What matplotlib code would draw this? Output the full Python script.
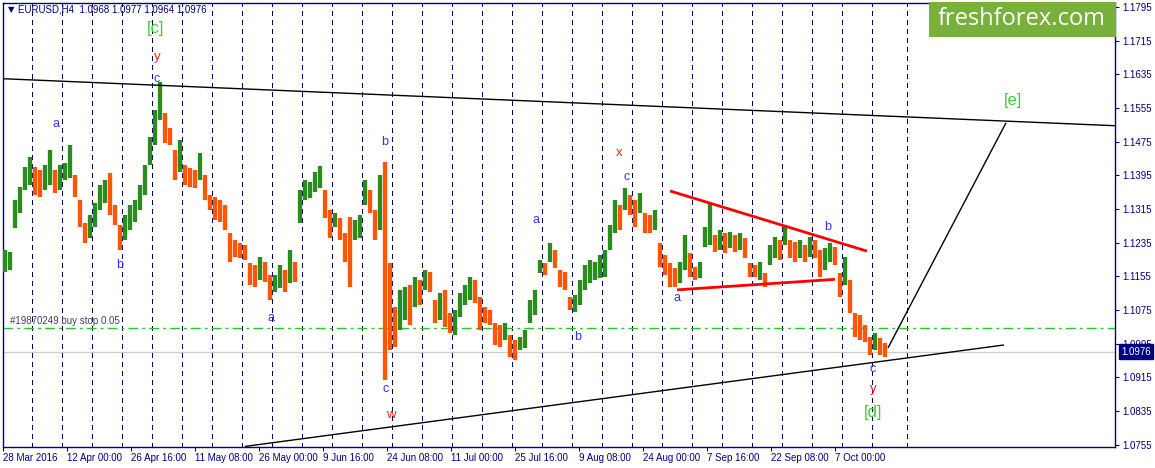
import numpy as np
import matplotlib
matplotlib.use('Agg')
import matplotlib.pyplot as plt
import matplotlib.transforms as mtransforms
from matplotlib.patches import Rectangle

plt.rcParams['font.family'] = ['Liberation Sans', 'DejaVu Sans']

# EURUSD H4, one sample every 5 bars (high / low)
high = [1.1218, 1.1213, 1.1336, 1.1367, 1.1415, 1.1438, 1.1415, 1.1408, 1.1420, 1.1455,
        1.1408, 1.1420, 1.1424, 1.1467, 1.1396, 1.1336, 1.1282, 1.1301, 1.1329, 1.1372,
        1.1384, 1.1400, 1.1325, 1.1277, 1.1301, 1.1325, 1.1336, 1.1372, 1.1420, 1.1486,
        1.1550, 1.1616, 1.1543, 1.1507, 1.1455, 1.1479, 1.1420, 1.1412, 1.1408, 1.1448,
        1.1396, 1.1348, 1.1344, 1.1336, 1.1325, 1.1258, 1.1241, 1.1234, 1.1230, 1.1187,
        1.1182, 1.1201, 1.1189, 1.1158, 1.1158, 1.1182, 1.1170, 1.1218, 1.1189, 1.1360,
        1.1384, 1.1379, 1.1403, 1.1417, 1.1360, 1.1313, 1.1306, 1.1294, 1.1258, 1.1296,
        1.1289, 1.1301, 1.1384, 1.1360, 1.1313, 1.1396, 1.1427, 1.1187, 1.1083, 1.1123,
        1.1130, 1.1135, 1.1154, 1.1147, 1.1170, 1.1165, 1.1099, 1.1116, 1.1123, 1.1068,
        1.1075, 1.1116, 1.1135, 1.1154, 1.1147, 1.1106, 1.1083, 1.1075, 1.1045, 1.1040,
        1.1045, 1.1016, 1.1004, 1.1011, 1.1028, 1.1099, 1.1123, 1.1194, 1.1187, 1.1234,
        1.1218, 1.1170, 1.1165, 1.1106, 1.1111, 1.1147, 1.1182, 1.1194, 1.1189, 1.1206,
        1.1218, 1.1277, 1.1336, 1.1325, 1.1365, 1.1348, 1.1336, 1.1353, 1.1306, 1.1301,
        1.1313, 1.1234, 1.1206, 1.1187, 1.1175, 1.1189, 1.1253, 1.1211, 1.1177, 1.1189,
        1.1272, 1.1329, 1.1253, 1.1265, 1.1258, 1.1260, 1.1253, 1.1258, 1.1246, 1.1187,
        1.1182, 1.1189, 1.1163, 1.1230, 1.1249, 1.1241, 1.1277, 1.1241, 1.1237, 1.1241,
        1.1230, 1.1249, 1.1241, 1.1218, 1.1223, 1.1234, 1.1225, 1.1163, 1.1201, 1.1147,
        1.1068, 1.1064, 1.1040, 1.1011, 1.1021, 1.1009, 1.0997]
low = [1.1165, 1.1170, 1.1270, 1.1306, 1.1360, 1.1372, 1.1348, 1.1344, 1.1360, 1.1372,
       1.1353, 1.1360, 1.1384, 1.1389, 1.1344, 1.1272, 1.1234, 1.1246, 1.1272, 1.1313,
       1.1329, 1.1301, 1.1277, 1.1218, 1.1241, 1.1265, 1.1284, 1.1313, 1.1348, 1.1420,
       1.1467, 1.1526, 1.1472, 1.1467, 1.1384, 1.1403, 1.1372, 1.1367, 1.1365, 1.1384,
       1.1336, 1.1313, 1.1289, 1.1284, 1.1265, 1.1189, 1.1201, 1.1199, 1.1194, 1.1135,
       1.1130, 1.1147, 1.1142, 1.1099, 1.1118, 1.1128, 1.1118, 1.1139, 1.1142, 1.1282,
       1.1336, 1.1341, 1.1355, 1.1365, 1.1294, 1.1246, 1.1272, 1.1241, 1.1189, 1.1130,
       1.1241, 1.1246, 1.1325, 1.1306, 1.1241, 1.1265, 1.0909, 1.0980, 1.0988, 1.1028,
       1.1052, 1.1040, 1.1083, 1.1087, 1.1123, 1.1118, 1.1045, 1.1052, 1.1035, 1.1021,
       1.1016, 1.1059, 1.1087, 1.1099, 1.1092, 1.1028, 1.1045, 1.1040, 1.0992, 1.0988,
       1.1004, 1.0964, 1.0957, 1.0980, 1.0985, 1.1045, 1.1064, 1.1163, 1.1158, 1.1189,
       1.1175, 1.1130, 1.1123, 1.1075, 1.1071, 1.1087, 1.1123, 1.1139, 1.1147, 1.1151,
       1.1154, 1.1218, 1.1258, 1.1265, 1.1313, 1.1301, 1.1272, 1.1306, 1.1258, 1.1258,
       1.1265, 1.1177, 1.1158, 1.1130, 1.1130, 1.1139, 1.1170, 1.1154, 1.1147, 1.1151,
       1.1225, 1.1230, 1.1213, 1.1218, 1.1211, 1.1223, 1.1213, 1.1218, 1.1199, 1.1154,
       1.1154, 1.1147, 1.1130, 1.1182, 1.1199, 1.1194, 1.1230, 1.1199, 1.1189, 1.1199,
       1.1189, 1.1201, 1.1199, 1.1154, 1.1170, 1.1189, 1.1182, 1.1106, 1.1135, 1.1068,
       1.1011, 1.1004, 1.0999, 1.0969, 1.0980, 1.0969, 1.0964]

last_ohlc = ['1.0968', '1.0977', '1.0964', '1.0976']
last_price = 1.0976
buy_stop = 1.1032

date_labels = ['28 Mar 2016', '12 Apr 00:00', '26 Apr 16:00', '11 May 08:00', '26 May 00:00',
               '9 Jun 16:00', '24 Jun 08:00', '11 Jul 00:00', '25 Jul 16:00', '9 Aug 08:00',
               '24 Aug 00:00', '7 Sep 16:00', '22 Sep 08:00', '7 Oct 00:00']
price_ticks = [1.0755, 1.0835, 1.0915, 1.0995, 1.1075, 1.1155, 1.1235, 1.1315,
               1.1395, 1.1475, 1.1555, 1.1635, 1.1715, 1.1795]

# trend lines: (bar, price) end points
channel_top = [(-3, 1.1625), (1112, 1.1513)]
channel_bottom = [(242, 1.0751), (1001, 1.0992)]
projection = [(885, 1.0985), (1003, 1.1520)]
tri_top = [(667, 1.1358), (864, 1.1215)]
tri_bottom = [(674, 1.1123), (832, 1.1148)]

# wave labels: (text, bar, price, kind)
waves = [('[c]', 153, 1.1745, 'big'), ('y', 154, 1.1676, 'red'), ('c', 154, 1.1624, 'blue'),
         ('a', 53, 1.1517, 'blue'), ('b', 117, 1.1182, 'blue'), ('a', 268, 1.1056, 'blue'),
         ('b', 382, 1.1474, 'blue'), ('c', 383, 1.0888, 'blue'), ('w', 388, 1.0826, 'red'),
         ('a', 533, 1.1289, 'blue'), ('b', 575, 1.1011, 'blue'), ('x', 616, 1.1448, 'red'),
         ('c', 624, 1.1391, 'blue'), ('a', 674, 1.1104, 'blue'), ('b', 825, 1.1272, 'blue'),
         ('c', 870, 1.0935, 'blue'), ('y', 870, 1.0888, 'red'), ('[d]', 870, 1.0831, 'big'),
         ('[e]', 1010, 1.1574, 'big')]

W, H = 1155, 468
navy = '#000080'
fig = plt.figure(figsize=(W / 100, H / 100), dpi=100)
ax = fig.add_axes([3 / W, 21 / H, 1112 / W, 444 / H])
ax.set_xlim(0, 1112)
ax.set_ylim(1.07496, 1.18046)

# grid
for gx in list(np.arange(28.7, 870, 30)) + [903.7]:
    ax.axvline(gx, color='#000060', lw=0.75, ls=(0, (4, 4)), zorder=1, antialiased=False)

# bars
high = np.array(high)
low = np.array(low)
xs = np.arange(len(high)) * 5 + 2
mid = (high + low) / 2
up = np.r_[True, mid[1:] >= mid[:-1]]
cols = np.where(up, '#2a8c1e', '#ff5508')
ax.vlines(xs, low, high, colors=cols, lw=3.1, zorder=3)

ax.axhline(last_price, color='#cccccc', lw=0.9, zorder=2)
ax.axhline(buy_stop, color='#22cc22', lw=1.0, ls=(0, (7, 3, 2, 3)), zorder=2)
ax.text(7, buy_stop + 0.0011, '#19870249 buy stop 0.05', fontsize=7, color='#404060')

for seg, c, lw in [(channel_top, 'black', 1.0), (channel_bottom, 'black', 1.0),
                   (projection, 'black', 1.0), (tri_top, '#ff0000', 2.0), (tri_bottom, '#ff0000', 2.0)]:
    (x0, y0), (x1, y1) = seg
    ax.plot([x0, x1], [y0, y1], color=c, lw=lw, zorder=4, solid_capstyle='butt')

styles = {'blue': ('#3030ff', 9), 'red': ('#ff2020', 9.5), 'big': ('#3ccc3c', 12)}
for t, bx, p, kind in waves:
    c, fs = styles[kind]
    ax.text(bx, p, t, color=c, fontsize=fs, ha='center', va='center', zorder=5)

# axes styling
for s in ax.spines.values():
    s.set_color(navy)
    s.set_linewidth(1.0)
ax.yaxis.tick_right()
ax.set_yticks(price_ticks)
ax.set_yticklabels(['%.4f' % v for v in price_ticks])
ax.tick_params(axis='y', colors=navy, labelsize=7, length=3, pad=2, width=0.8)
ax.set_xticks(np.arange(len(date_labels)) * 64)
ax.set_xticklabels(date_labels, ha='left')
ax.tick_params(axis='x', colors=navy, labelsize=7, length=3, pad=1.5, width=0.8)

blend = mtransforms.blended_transform_factory(ax.transAxes, ax.transData)
ax.text(1.0 + 6 / 1112, last_price, '%.4f' % last_price, transform=blend, color='white',
        fontsize=7, ha='left', va='center', zorder=10, clip_on=False,
        bbox=dict(boxstyle='square,pad=0.25', fc=navy, ec=navy))

# header
fig.text(8 / W, 1 - 10 / H, '▼', fontsize=6, color=navy, va='center',
         family=['DejaVu Sans'])
fig.text(18 / W, 1 - 10 / H, 'EURUSD,H4  ' + ' '.join(last_ohlc), fontsize=7,
         color=navy, va='center')

# watermark box
fig.patches.append(Rectangle((929 / W, 1 - 37 / H), 187 / W, 35 / H, transform=fig.transFigure,
                             fc='#78b03c', ec='none', zorder=20))
fig.text(1022 / W, 1 - 19 / H, 'freshforex.com', fontsize=17, color='white', ha='center',
         va='center', family=['Open Sans', 'DejaVu Sans'], zorder=21)

fig.savefig('out.png', dpi=100)
